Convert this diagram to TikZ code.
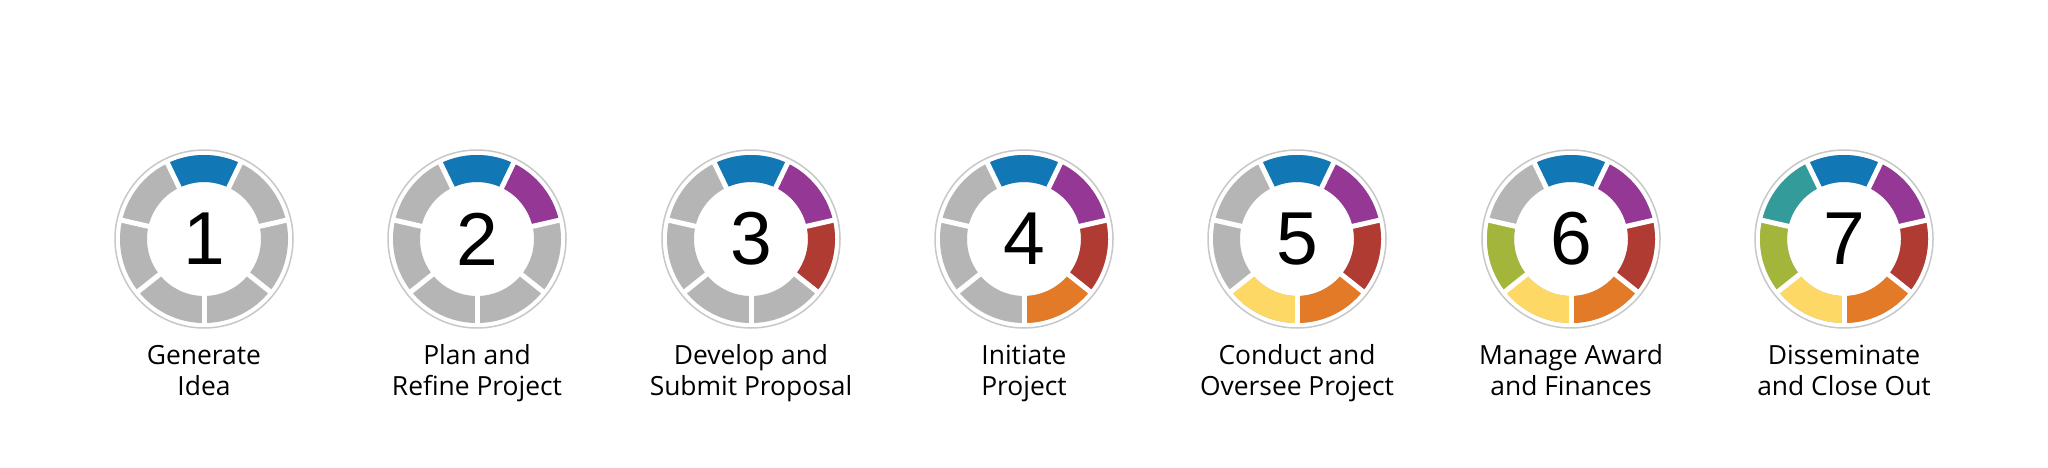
\documentclass[tikz,border=0pt]{standalone}
\usepackage{fontspec}
\setmainfont{Open Sans}
\newfontfamily\numfont{Liberation Sans}
\definecolor{segBlue}{RGB}{17,119,181}
\definecolor{segPurple}{RGB}{149,55,149}
\definecolor{segRed}{RGB}{176,59,50}
\definecolor{segOrange}{RGB}{226,122,40}
\definecolor{segYellow}{RGB}{253,216,100}
\definecolor{segGreen}{RGB}{163,182,59}
\definecolor{segTeal}{RGB}{52,155,155}
\definecolor{segGray}{RGB}{181,181,181}
\definecolor{rimGray}{RGB}{200,200,200}
\tikzset{
  num/.style={font=\numfont\fontsize{37.5}{40}\selectfont, inner sep=0pt},
  lbl/.style={font=\fontsize{13.2}{15.5}\selectfont, align=center, anchor=base, inner sep=0pt},
  rim/.style={draw=rimGray, line width=0.75pt},
  seg/.style={line width=13.5pt},
  gap/.style={draw=white, line width=2.5pt}
}
\begin{document}
\begin{tikzpicture}[x=0.5pt, y=0.5pt]
            \fill[white] (0, 0) rectangle (2048, 467);
            \useasboundingbox (0, 0) rectangle (2048, 467);

            % step 1
            \node[num] (n1) at (204, 228) { 1 };
            \draw[rim] (n1.center) circle (89);
            \draw[seg, segGray] (n1.center) circle (70.5);
            \draw[seg, segBlue] (n1.center) ++(115.71:70.5) arc[start angle=115.71, end angle=64.29, radius=70.5];
            \node[lbl] (l1) at (204, 71.5) { Generate\\Idea };

            % step 2
            \node[num] (n2) at (477, 228) { 2 };
            \draw[rim] (n2.center) circle (89);
            \draw[seg, segGray] (n2.center) circle (70.5);
            \draw[seg, segBlue] (n2.center) ++(115.71:70.5) arc[start angle=115.71, end angle=64.29, radius=70.5];
            \draw[seg, segPurple] (n2.center) ++(64.29:70.5) arc[start angle=64.29, end angle=12.86, radius=70.5];
            \node[lbl] (l2) at (477, 71.5) { Plan and\\Refine Project };

            % step 3
            \node[num] (n3) at (751, 228) { 3 };
            \draw[rim] (n3.center) circle (89);
            \draw[seg, segGray] (n3.center) circle (70.5);
            \draw[seg, segBlue] (n3.center) ++(115.71:70.5) arc[start angle=115.71, end angle=64.29, radius=70.5];
            \draw[seg, segPurple] (n3.center) ++(64.29:70.5) arc[start angle=64.29, end angle=12.86, radius=70.5];
            \draw[seg, segRed] (n3.center) ++(12.86:70.5) arc[start angle=12.86, end angle=-38.57, radius=70.5];
            \node[lbl] (l3) at (751, 71.5) { Develop and\\Submit Proposal };

            % step 4
            \node[num] (n4) at (1024, 228) { 4 };
            \draw[rim] (n4.center) circle (89);
            \draw[seg, segGray] (n4.center) circle (70.5);
            \draw[seg, segBlue] (n4.center) ++(115.71:70.5) arc[start angle=115.71, end angle=64.29, radius=70.5];
            \draw[seg, segPurple] (n4.center) ++(64.29:70.5) arc[start angle=64.29, end angle=12.86, radius=70.5];
            \draw[seg, segRed] (n4.center) ++(12.86:70.5) arc[start angle=12.86, end angle=-38.57, radius=70.5];
            \draw[seg, segOrange] (n4.center) ++(-38.57:70.5) arc[start angle=-38.57, end angle=-90, radius=70.5];
            \node[lbl] (l4) at (1024, 71.5) { Initiate\\Project };

            % step 5
            \node[num] (n5) at (1297, 228) { 5 };
            \draw[rim] (n5.center) circle (89);
            \draw[seg, segGray] (n5.center) circle (70.5);
            \draw[seg, segBlue] (n5.center) ++(115.71:70.5) arc[start angle=115.71, end angle=64.29, radius=70.5];
            \draw[seg, segPurple] (n5.center) ++(64.29:70.5) arc[start angle=64.29, end angle=12.86, radius=70.5];
            \draw[seg, segRed] (n5.center) ++(12.86:70.5) arc[start angle=12.86, end angle=-38.57, radius=70.5];
            \draw[seg, segOrange] (n5.center) ++(-38.57:70.5) arc[start angle=-38.57, end angle=-90, radius=70.5];
            \draw[seg, segYellow] (n5.center) ++(-90:70.5) arc[start angle=-90, end angle=-141.43, radius=70.5];
            \node[lbl] (l5) at (1297, 71.5) { Conduct and\\Oversee Project };

            % step 6
            \node[num] (n6) at (1571, 228) { 6 };
            \draw[rim] (n6.center) circle (89);
            \draw[seg, segGray] (n6.center) circle (70.5);
            \draw[seg, segBlue] (n6.center) ++(115.71:70.5) arc[start angle=115.71, end angle=64.29, radius=70.5];
            \draw[seg, segPurple] (n6.center) ++(64.29:70.5) arc[start angle=64.29, end angle=12.86, radius=70.5];
            \draw[seg, segRed] (n6.center) ++(12.86:70.5) arc[start angle=12.86, end angle=-38.57, radius=70.5];
            \draw[seg, segOrange] (n6.center) ++(-38.57:70.5) arc[start angle=-38.57, end angle=-90, radius=70.5];
            \draw[seg, segYellow] (n6.center) ++(-90:70.5) arc[start angle=-90, end angle=-141.43, radius=70.5];
            \draw[seg, segGreen] (n6.center) ++(-141.43:70.5) arc[start angle=-141.43, end angle=-192.86, radius=70.5];
            \node[lbl] (l6) at (1571, 71.5) { Manage Award\\and Finances };

            % step 7
            \node[num] (n7) at (1844, 228) { 7 };
            \draw[rim] (n7.center) circle (89);
            \draw[seg, segGray] (n7.center) circle (70.5);
            \draw[seg, segBlue] (n7.center) ++(115.71:70.5) arc[start angle=115.71, end angle=64.29, radius=70.5];
            \draw[seg, segPurple] (n7.center) ++(64.29:70.5) arc[start angle=64.29, end angle=12.86, radius=70.5];
            \draw[seg, segRed] (n7.center) ++(12.86:70.5) arc[start angle=12.86, end angle=-38.57, radius=70.5];
            \draw[seg, segOrange] (n7.center) ++(-38.57:70.5) arc[start angle=-38.57, end angle=-90, radius=70.5];
            \draw[seg, segYellow] (n7.center) ++(-90:70.5) arc[start angle=-90, end angle=-141.43, radius=70.5];
            \draw[seg, segGreen] (n7.center) ++(-141.43:70.5) arc[start angle=-141.43, end angle=-192.86, radius=70.5];
            \draw[seg, segTeal] (n7.center) ++(167.14:70.5) arc[start angle=167.14, end angle=115.71, radius=70.5];
            \node[lbl] (l7) at (1844, 71.5) { Disseminate\\and Close Out };

            % white gaps between the segments
            \foreach \c in {n1, n2, n3, n4, n5, n6, n7}
              \foreach \a in {115.71, 64.29, 12.86, -38.57, -90, -141.43, 167.14}
                \draw[gap] (\c.center) ++(\a:52) -- ++(\a:35);
\end{tikzpicture}
\end{document}
